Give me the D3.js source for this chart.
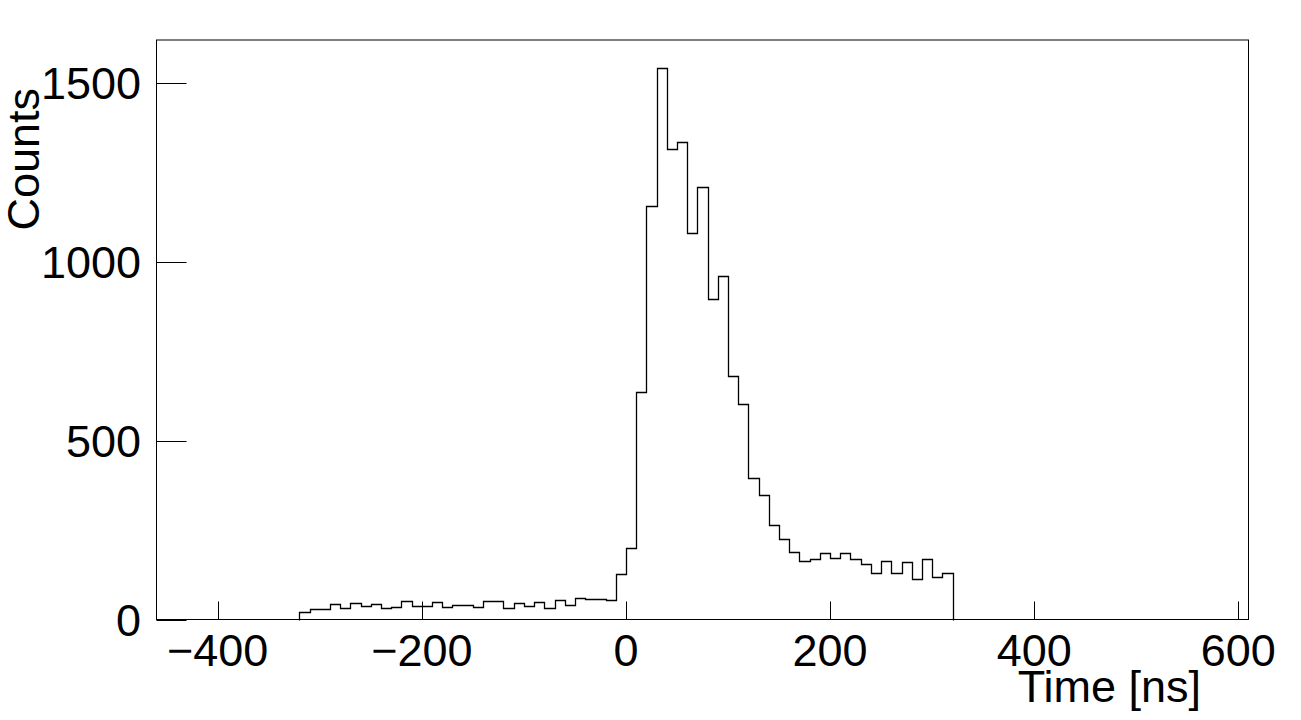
<!DOCTYPE html>
<html>
<head>
    <meta charset="UTF-8">
    <title>Time distribution</title>
</head>
<style>
    body {
        margin: 0;
        padding: 0;
        background: white;
    }
    svg {
        display: block;
    }
    text {
        font-family: "Liberation Sans", Arial, Helvetica, sans-serif;
        font-size: 45px;
        fill: black;
    }
</style>
<body>
<svg width="1301" height="720"></svg>
<script src="https://d3js.org/d3.v7.min.js"></script>
<script>
    // histogram: 64 bins of 10 ns starting at -320 ns
    var binLow = -320,
        binWidth = 10;
    var counts = [
        21, 28, 28, 43, 31, 45, 37, 42, 31, 34, 51, 37, 37, 50, 34, 41,
        41, 34, 51, 51, 31, 45, 37, 48, 31, 54, 41, 59, 57, 57, 54, 127,
        200, 637, 1156, 1544, 1315, 1337, 1082, 1209, 897, 962, 680, 602, 397, 347, 263, 224,
        190, 165, 168, 185, 171, 187, 168, 154, 129, 165, 129, 160, 112, 168, 120, 131
    ];
    var xRange = [-460, 610],
        yRange = [0, 1621];
    var xTicks = [-400, -200, 0, 200, 400, 600],
        yTicks = [0, 500, 1000, 1500];
    var xTitle = "Time [ns]",
        yTitle = "Counts";

    var svg = d3.select("svg"),
        frameL = 156.5, frameR = 1248.5, frameT = 40, frameB = 619.5;

    var x = d3.scaleLinear().domain(xRange).range([frameL, frameR]);
    var y = d3.scaleLinear().domain(yRange).range([frameB, frameT]);

    // frame
    svg.append("rect")
        .attr("x", frameL).attr("y", frameT)
        .attr("width", frameR - frameL).attr("height", frameB - frameT)
        .attr("fill", "none").attr("stroke", "black").attr("stroke-width", 1);

    // step outline of the histogram
    var pts = [[binLow, 0]];
    counts.forEach(function (c, i) {
        var x0 = binLow + i * binWidth;
        pts.push([x0, c]);
        pts.push([x0 + binWidth, c]);
    });
    pts.push([binLow + counts.length * binWidth, 0]);

    var line = d3.line()
        .x(function (d) { return Math.round(x(d[0])) + 0.5; })
        .y(function (d) { return Math.round(y(d[1])) + 0.5; });

    svg.append("path")
        .datum(pts)
        .attr("d", line)
        .attr("fill", "none")
        .attr("stroke", "black")
        .attr("stroke-width", 1.3);

    // x axis ticks, pointing inside
    var xa = svg.append("g");
    xa.selectAll("line").data(xTicks).enter().append("line")
        .attr("x1", function (d) { return Math.round(x(d)) + 0.5; })
        .attr("x2", function (d) { return Math.round(x(d)) + 0.5; })
        .attr("y1", frameB).attr("y2", frameB - 18)
        .attr("stroke", "black");
    xa.selectAll("text").data(xTicks).enter().append("text")
        .attr("x", function (d) { return x(d); })
        .attr("y", 666)
        .attr("text-anchor", "middle")
        .text(function (d) { return d < 0 ? "\u2212" + Math.abs(d) : d; });

    // y axis ticks
    var ya = svg.append("g");
    ya.selectAll("line").data(yTicks).enter().append("line")
        .attr("x1", frameL).attr("x2", frameL + 30)
        .attr("y1", function (d) { return Math.round(y(d)) + 0.5; })
        .attr("y2", function (d) { return Math.round(y(d)) + 0.5; })
        .attr("stroke", "black");
    ya.selectAll("text").data(yTicks).enter().append("text")
        .attr("x", 141)
        .attr("y", function (d) { return y(d) + 16; })
        .attr("text-anchor", "end")
        .text(function (d) { return d; });

    // axis titles
    svg.append("text")
        .attr("x", 1201).attr("y", 702)
        .attr("text-anchor", "end")
        .text(xTitle);

    svg.append("text")
        .attr("transform", "translate(39,88) rotate(-90)")
        .attr("text-anchor", "end")
        .text(yTitle);
</script>
</body>
</html>
